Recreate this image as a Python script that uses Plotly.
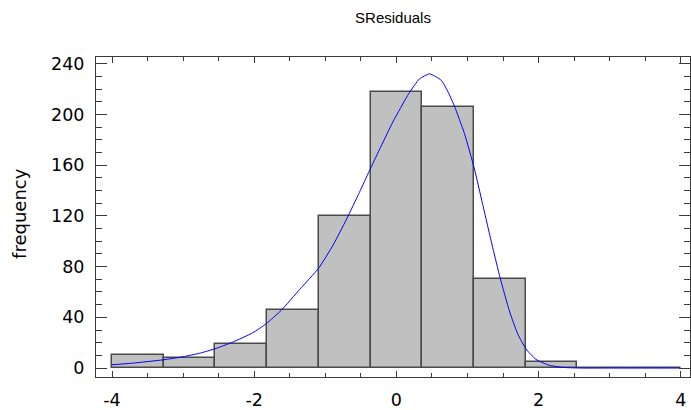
import numpy as np
import plotly.graph_objects as go

# Histogram of standardized residuals: 11 equal bins over [-4, 4]
bin_start = -4.0
bin_end = 4.0
counts = [10, 8, 19, 46, 120, 218, 206, 70, 5, 0, 0]

# Fitted density curve (scaled to frequency)
curve_x = [-4.0, -3.70, -3.28, -3.0, -2.76, -2.55, -2.30, -2.02, -1.83, -1.62,
           -1.36, -1.09, -0.89, -0.70, -0.52, -0.38, -0.24, -0.05, 0.175, 0.325,
           0.466, 0.63, 0.72, 0.817, 0.957, 1.098, 1.21, 1.355, 1.46, 1.59,
           1.706, 1.824, 1.964, 2.15, 2.34, 2.6, 3.0, 4.0]
curve_y = [2.6, 3.9, 6.5, 8.9, 11.8, 15.2, 20.5, 27.8, 35.0, 45.5,
           62.0, 79.0, 97.0, 117.5, 138.5, 155.5, 172, 194, 216.5, 228,
           232, 227, 218.5, 206.5, 185, 157, 130, 95, 71, 45,
           27, 15, 6.8, 2.2, 0.5, 0, 0, 0]

x_ticks = [-4, -2, 0, 2, 4]
y_ticks = [0, 40, 80, 120, 160, 200, 240]

n_bins = len(counts)
edges = np.linspace(bin_start, bin_end, n_bins + 1)
centers = (edges[:-1] + edges[1:]) / 2
width = edges[1] - edges[0]

FONT = "DejaVu Sans, Verdana, sans-serif"
TITLE_FONT = "Arial, Liberation Sans, sans-serif"
AXIS_COLOR = "#3a3a3a"

fig = go.Figure()
fig.add_trace(go.Bar(
    x=centers, y=counts, width=width,
    marker=dict(color="#C0C0C0", line=dict(color="#4a4a4a", width=1.5)),
    hoverinfo="x+y",
))
fig.add_trace(go.Scatter(
    x=curve_x, y=curve_y, mode="lines",
    line=dict(color="#0000FF", width=1, shape="spline", smoothing=0.5),
))

fig.update_layout(
    width=691, height=410,
    margin=dict(l=96, r=0, t=57, b=31),
    paper_bgcolor="white", plot_bgcolor="white",
    showlegend=False,
    bargap=0,
    font=dict(family=FONT, color="black"),
    title=dict(text="SResiduals", x=0.5, xref="paper", xanchor="center",
               y=1 - 18 / 410, yref="container", yanchor="middle",
               font=dict(family=TITLE_FONT, size=15, color="black")),
    annotations=[dict(text="frequency", textangle=-90, showarrow=False,
                      xref="paper", yref="paper", x=-76 / 595, y=0.51,
                      xanchor="center", yanchor="middle",
                      font=dict(family=FONT, size=18, color="black"))],
)

fig.update_xaxes(
    range=[-4.225, 4.13], tickvals=x_ticks, ticktext=[str(v) for v in x_ticks],
    showgrid=False, zeroline=False,
    showline=True, linecolor=AXIS_COLOR, linewidth=1, mirror="ticks",
    ticks="inside", ticklen=6, tickcolor=AXIS_COLOR, tickwidth=1,
    minor=dict(dtick=0.5, tick0=0, ticks="inside", ticklen=4,
               tickcolor=AXIS_COLOR, showgrid=False),
    tickfont=dict(family=FONT, size=17.5, color="black"),
    ticklabelstandoff=7,
)
fig.update_yaxes(
    range=[-7.06, 245.3], tickvals=y_ticks, ticktext=[str(v) for v in y_ticks],
    showgrid=False, zeroline=False,
    showline=True, linecolor=AXIS_COLOR, linewidth=1, mirror="ticks",
    ticks="inside", ticklen=11, tickcolor=AXIS_COLOR, tickwidth=1,
    minor=dict(dtick=10, tick0=0, ticks="inside", ticklen=6,
               tickcolor=AXIS_COLOR, showgrid=False),
    tickfont=dict(family=FONT, size=17.5, color="black"),
    ticklabelstandoff=7,
)

fig.write_html("out.html")
